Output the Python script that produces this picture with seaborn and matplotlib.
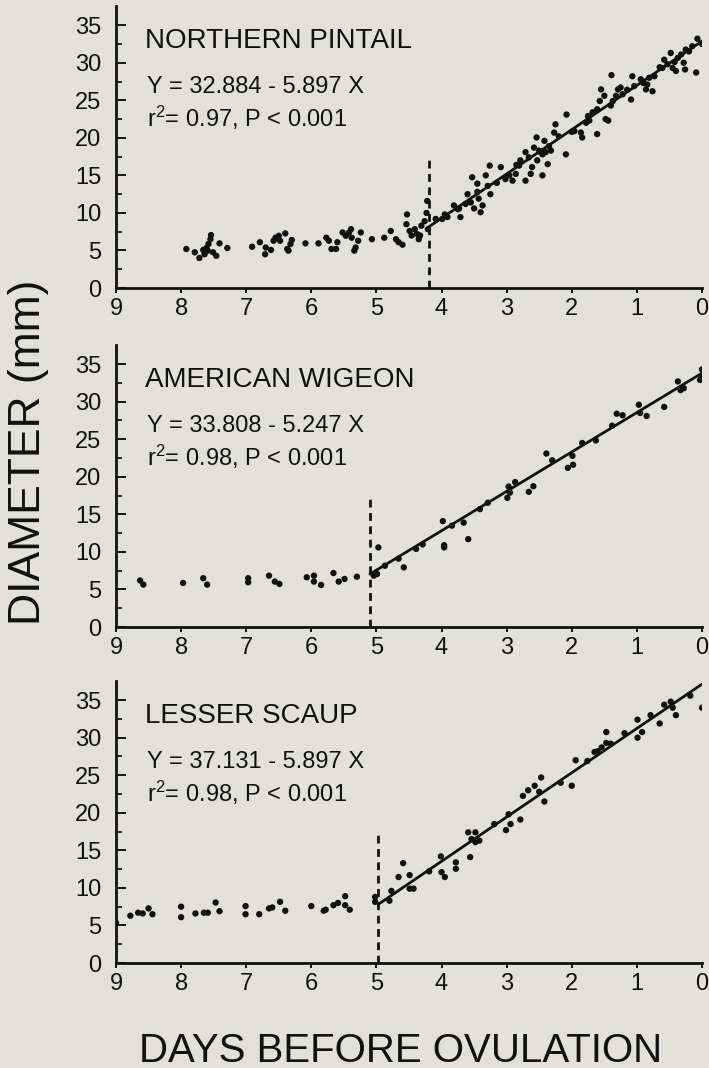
import numpy as np
import pandas as pd
import seaborn as sns
import matplotlib.pyplot as plt

# Follicle diameter vs days before ovulation, three duck species

species = ['NORTHERN PINTAIL', 'AMERICAN WIGEON', 'LESSER SCAUP']
intercepts = [32.884, 33.808, 37.131]
slopes = [5.897, 5.247, 5.897]
r2_text = ['0.97', '0.98', '0.98']
breaks = [4.2, 5.1, 4.97]
dash_top = 17.3

pintail_days = [7.92, 7.79, 7.72, 7.66, 7.61, 7.58, 7.55, 7.54, 7.51, 7.46, 7.41, 7.29, 7.59, 7.64,
                6.91, 6.79, 6.71, 6.70, 6.62, 6.58, 6.55, 6.50, 6.48, 6.40, 6.37, 6.35, 6.30, 6.32,
                6.09, 5.89, 5.77, 5.73, 5.69, 5.62, 5.60, 5.52, 5.47, 5.42, 5.39, 5.38, 5.34, 5.32, 5.28, 5.24,
                5.07, 4.88, 4.78, 4.70, 4.66, 4.60, 4.54, 4.53, 4.49, 4.46, 4.41, 4.38, 4.35, 4.33, 4.31,
                4.26, 4.23, 4.22, 4.21,
                4.09, 3.99, 3.91, 3.81, 3.73, 3.71, 3.63, 3.60, 3.55, 3.53, 3.50, 3.45, 3.43, 3.40, 3.37,
                3.32, 3.29, 3.26, 3.25, 3.09, 3.02, 2.96, 2.91, 2.86, 2.81, 2.79, 2.71, 2.71, 2.66, 2.63,
                2.61, 2.58, 2.54, 2.53, 2.48, 2.45, 2.42, 2.40, 2.37, 2.35, 2.32, 2.27, 2.25, 2.09, 2.08,
                1.96, 1.86, 1.84, 1.78, 1.73, 1.68, 1.61, 1.61, 1.57, 1.55, 1.50, 1.48, 1.44, 1.39, 1.37,
                1.32, 1.29, 1.25, 1.22, 1.09, 1.07, 1.04, 0.94, 0.86, 0.84, 0.81, 0.76, 0.73, 0.61, 0.58,
                0.53, 0.48, 0.45, 0.40, 0.37, 0.32, 0.28, 0.26, 0.25, 0.20, 0.09, 0.07, 0.0,
                3.95, 3.75, 3.45, 3.15, 2.85, 2.50, 2.45, 2.20, 2.00, 1.75, 1.40, 1.15, 0.90, 0.65, 0.42, 0.15]
pintail_diam = [5.2, 4.76, 4.0, 5.07, 5.33, 5.86, 6.5, 7.05, 4.76, 4.3, 5.95, 5.33, 4.98, 4.5,
                5.5, 6.1, 4.5, 5.4, 5.07, 6.3, 6.7, 6.96, 6.3, 7.27, 5.2, 4.98, 6.4, 5.86,
                5.95, 5.95, 6.7, 6.3, 5.2, 5.2, 6.1, 7.4, 6.96, 7.4, 7.84, 6.7, 4.98, 5.4, 6.3, 7.4,
                6.5, 6.7, 7.6, 6.5, 6.1, 5.77, 8.5, 9.8, 7.6, 7.0, 7.84, 7.2, 6.5, 7.0, 8.3,
                8.9, 10.0, 11.6, 7.84,
                9.2, 9.2, 9.45, 11.0, 10.6, 9.45, 11.2, 12.5, 11.4, 14.75, 10.6, 13.9, 11.9, 10.1, 11.0,
                15.0, 13.6, 16.3, 12.5, 16.1, 14.5, 15.0, 14.3, 15.2, 16.3, 17.0, 18.1, 14.3, 17.4, 15.2,
                16.1, 18.7, 20.05, 17.0, 18.1, 15.0, 19.6, 18.1, 16.5, 18.9, 18.3, 20.7, 21.8, 17.8, 23.1,
                20.9, 20.7, 20.05, 22.0, 22.3, 23.4, 23.8, 20.5, 24.9, 26.45, 25.6, 22.5, 22.3, 28.35, 24.9,
                25.6, 26.45, 26.7, 25.8, 25.1, 28.2, 26.9, 27.8, 26.45, 27.1, 28.0, 26.2, 28.2, 29.3, 30.4,
                29.8, 31.3, 29.3, 28.9, 30.65, 31.1, 30.0, 29.1, 31.75, 31.5, 28.7, 33.2, 32.5,
                9.8, 10.5, 12.8, 14.0, 16.4, 18.3, 17.8, 20.2, 20.8, 22.9, 24.3, 26.4, 27.3, 29.4, 30.1, 32.2]

wigeon_days = [8.63, 8.58, 7.97, 7.66, 7.60, 6.97, 6.97, 6.65, 6.56, 6.49, 6.07, 5.96, 5.96, 5.85,
               5.66, 5.58, 5.49, 5.30, 5.04, 4.97, 4.99, 4.87, 4.66, 4.58, 4.39, 4.29, 3.98, 3.96, 3.96,
               3.84, 3.66, 3.59, 3.41, 3.29, 2.99, 2.97, 2.95, 2.87, 2.66, 2.59, 2.39, 2.30, 2.06, 1.98,
               1.99, 1.84, 1.63, 1.38, 1.31, 1.22, 0.97, 0.95, 0.85, 0.58, 0.37, 0.33, 0.28, 0.03, 0.0, 0.0]
wigeon_diam = [6.2, 5.65, 5.87, 6.5, 5.65, 6.5, 5.96, 6.84, 6.05, 5.74, 6.62, 6.84, 6.05, 5.6,
               7.19, 6.05, 6.4, 6.7, 6.84, 10.6, 7.06, 8.16, 9.1, 7.94, 10.4, 11.0, 14.1, 10.9, 10.6,
               13.5, 13.9, 11.7, 15.7, 16.55, 17.2, 18.7, 17.9, 19.3, 18.0, 18.75, 23.1, 22.2, 21.2, 21.6,
               22.8, 24.5, 24.85, 26.8, 28.4, 28.2, 29.6, 28.5, 28.1, 29.3, 32.7, 31.55, 31.8, 32.9, 34.3, 33.2]

scaup_days = [9.0, 8.78, 8.66, 8.59, 8.50, 8.44, 8.00, 8.00, 7.78, 7.65, 7.59, 7.47, 7.41,
              7.01, 7.01, 6.80, 6.65, 6.60, 6.48, 6.40, 6.00, 5.81, 5.78, 5.66, 5.59, 5.48, 5.48, 5.41,
              5.02, 5.02, 4.80, 4.77, 4.66, 4.59, 4.49, 4.49, 4.43, 4.19, 4.01, 4.00, 3.95, 3.78, 3.78,
              3.59, 3.56, 3.54, 3.48, 3.48, 3.42, 3.19, 3.01, 2.97, 2.94, 2.79, 2.75, 2.67, 2.57, 2.50,
              2.47, 2.42, 2.17, 2.00, 1.94, 1.76, 1.65, 1.60, 1.54, 1.47, 1.47, 1.40, 1.19, 0.99, 0.99,
              0.92, 0.79, 0.65, 0.58, 0.48, 0.45, 0.40, 0.18, 0.0]
scaup_diam = [5.37, 6.3, 6.7, 6.6, 7.27, 6.5, 7.5, 6.1, 6.6, 6.7, 6.7, 8.06, 6.9,
              7.58, 6.5, 6.5, 7.27, 7.4, 8.15, 6.96, 7.58, 6.96, 7.1, 7.7, 8.0, 8.9, 7.7, 7.1,
              8.8, 8.15, 8.3, 9.6, 11.45, 13.3, 11.7, 9.9, 9.9, 12.2, 14.2, 12.1, 11.45, 13.4, 12.55,
              17.4, 14.1, 16.5, 17.4, 16.1, 16.3, 18.5, 17.7, 19.8, 18.5, 19.1, 22.25, 23.0, 23.6, 22.8,
              24.7, 21.5, 24.0, 23.6, 27.0, 26.9, 28.1, 28.2, 28.7, 30.75, 29.3, 29.2, 30.6, 32.4, 30.0,
              30.75, 33.0, 31.9, 34.4, 34.8, 34.0, 33.0, 35.6, 34.0]

days_list = [pintail_days, wigeon_days, scaup_days]
diam_list = [pintail_diam, wigeon_diam, scaup_diam]

bg = '#e2e0da'
ink = '#111111'

sns.set_theme(style='ticks')
plt.rcParams['font.family'] = ['Liberation Sans', 'DejaVu Sans']
plt.rcParams['mathtext.default'] = 'regular'
plt.rcParams['mathtext.fontset'] = 'custom'
plt.rcParams['mathtext.rm'] = 'Liberation Sans'

fig = plt.figure(figsize=(7.09, 10.68), dpi=100, facecolor=bg)

bottoms = [0.7303, 0.4129, 0.0983]
for i in range(3):
    ax = fig.add_axes([0.1636, bottoms[i], 0.8265, 0.2637], facecolor=bg)
    df = pd.DataFrame({'days': days_list[i], 'diam': diam_list[i]})
    sns.scatterplot(data=df, x='days', y='diam', ax=ax, s=21, color=ink,
                    edgecolor='none', linewidth=0, legend=False, zorder=3)

    # fitted regression from the printed equation
    fit = pd.DataFrame({'days': [breaks[i], 0.0]})
    fit['diam'] = intercepts[i] - slopes[i] * fit['days']
    sns.lineplot(data=fit, x='days', y='diam', ax=ax, color=ink, lw=2.0, zorder=4)

    # breakpoint
    ax.plot([breaks[i], breaks[i]], [0, dash_top], color=ink, lw=2.0,
            dashes=(2.8, 2.0), zorder=4)

    ax.set_xlim(9, 0)
    ax.set_ylim(0, 37.5)
    ax.set_xticks(range(0, 10))
    ax.set_yticks(np.arange(0, 36, 5))
    ax.set_yticks(np.arange(2.5, 36, 5), minor=True)
    ax.tick_params(axis='x', direction='out', length=3.5, width=1.4, pad=4,
                   labelsize=17, colors=ink)
    ax.tick_params(axis='y', which='major', direction='in', length=7, width=1.4,
                   pad=10.5, labelsize=17, colors=ink)
    ax.tick_params(axis='y', which='minor', direction='in', length=4.5, width=1.4)
    ax.set_xlabel('')
    ax.set_ylabel('')
    for side in ['left', 'bottom']:
        ax.spines[side].set_linewidth(2.0)
        ax.spines[side].set_color(ink)
    sns.despine(ax=ax)

    ax.text(8.56, 32.0, species[i], fontsize=20, color=ink, va='baseline')
    ax.text(8.53, 26.0, 'Y = %.3f - %.3f X' % (intercepts[i], slopes[i]),
            fontsize=17, color=ink, va='baseline')
    ax.text(8.53, 21.5, 'r$^2$= ' + r2_text[i] + ', P < 0.001',
            fontsize=17, color=ink, va='baseline')

fig.text(0.040, 1 - 452 / 1068, 'DIAMETER (mm)', rotation=90, ha='center',
         va='center', fontsize=32, color=ink)
fig.text(0.565, 1 - 1062 / 1068, 'DAYS BEFORE OVULATION', ha='center',
         va='baseline', fontsize=29, color=ink)

fig.savefig('out.png', dpi=100, facecolor=bg)
